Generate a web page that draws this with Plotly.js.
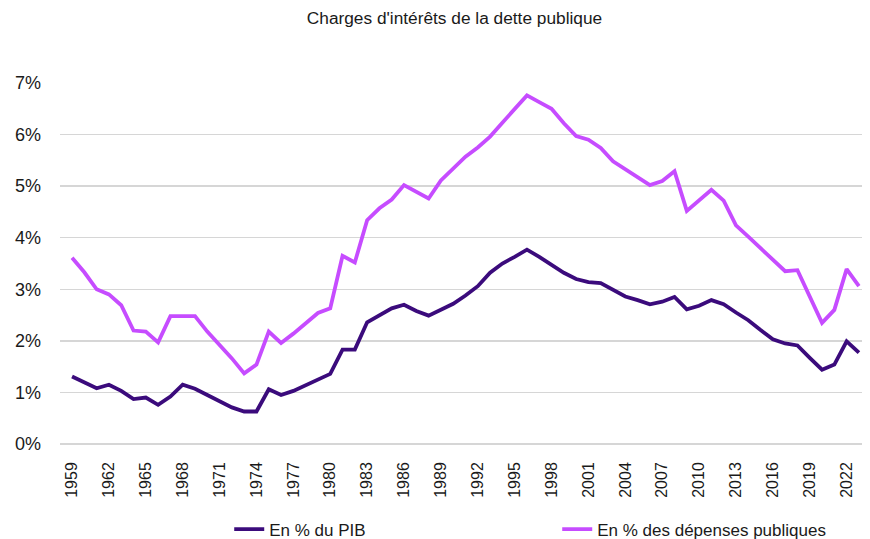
<!DOCTYPE html>
<html>
<head>
<meta charset="utf-8">
<script src="https://cdn.plot.ly/plotly-3.0.1.min.js"></script>
<style>
html,body{margin:0;padding:0;background:#fff;}
#chart{width:870px;height:539px;}
</style>
</head>
<body>
<div id="chart"></div>
<script>
const years = [1959,1960,1961,1962,1963,1964,1965,1966,1967,1968,1969,1970,1971,1972,1973,1974,1975,1976,1977,1978,1979,1980,1981,1982,1983,1984,1985,1986,1987,1988,1989,1990,1991,1992,1993,1994,1995,1996,1997,1998,1999,2000,2001,2002,2003,2004,2005,2006,2007,2008,2009,2010,2011,2012,2013,2014,2015,2016,2017,2018,2019,2020,2021,2022,2023];

const pctPIB = [1.31,1.20,1.08,1.15,1.03,0.87,0.90,0.76,0.92,1.15,1.07,0.95,0.83,0.71,0.63,0.63,1.06,0.95,1.03,1.14,1.25,1.36,1.83,1.83,2.36,2.49,2.63,2.70,2.58,2.49,2.60,2.72,2.88,3.06,3.32,3.50,3.63,3.77,3.63,3.47,3.32,3.20,3.14,3.12,2.98,2.86,2.79,2.71,2.76,2.85,2.61,2.68,2.79,2.71,2.55,2.40,2.21,2.03,1.95,1.91,1.67,1.44,1.54,1.99,1.77];

const pctDepenses = [3.61,3.33,3.00,2.90,2.69,2.20,2.18,1.97,2.48,2.48,2.48,2.18,1.92,1.66,1.37,1.54,2.18,1.96,2.14,2.34,2.54,2.63,3.65,3.52,4.34,4.57,4.74,5.02,4.89,4.76,5.11,5.34,5.57,5.75,5.96,6.23,6.49,6.76,6.63,6.50,6.22,5.97,5.90,5.74,5.48,5.32,5.17,5.02,5.10,5.29,4.52,4.72,4.93,4.72,4.24,4.02,3.79,3.56,3.35,3.37,2.88,2.35,2.60,3.39,3.06];

const seriesNames = ["En % du PIB", "En % des dépenses publiques"];
const titleText = "Charges d'intérêts de la dette publique";

const FONT = "'Liberation Sans', Arial, Helvetica, sans-serif";

const traces = [
  {x: years, y: pctPIB, name: seriesNames[0], type: 'scatter', mode: 'lines',
   line: {color: '#3b0b7c', width: 3.8}},
  {x: years, y: pctDepenses, name: seriesNames[1], type: 'scatter', mode: 'lines',
   line: {color: '#c64cff', width: 3.8}}
];

const layout = {
  width: 870, height: 539,
  margin: {l: 60, r: 8, t: 83, b: 95, pad: 0, autoexpand: false},
  paper_bgcolor: '#fff', plot_bgcolor: '#fff',
  font: {family: FONT, color: '#1a1a1a', size: 16},
  title: {text: titleText, x: 0.5224, xanchor: 'center', y: 0.966, yanchor: 'middle',
          yref: 'container', font: {family: FONT, size: 17.3, color: '#1a1a1a'}},
  xaxis: {
    range: [1958.02, 2023.25], tickmode: 'linear', tick0: 1959, dtick: 3,
    tickangle: -90, showgrid: false, zeroline: false, showline: false, automargin: false,
    ticks: '', ticklabelstandoff: 14,
    tickfont: {family: FONT, size: 16, color: '#1a1a1a'}
  },
  yaxis: {
    range: [0, 7], tickmode: 'linear', tick0: 0, dtick: 1, ticksuffix: '%',
    showgrid: true, gridcolor: '#d6d6d6', gridwidth: 1.5, automargin: false,
    zeroline: true, zerolinecolor: '#d6d6d6', zerolinewidth: 1.5,
    showline: false, ticks: '', ticklabelstandoff: 18,
    tickfont: {family: FONT, size: 18, color: '#1a1a1a'}
  },
  showlegend: true,
  legend: {orientation: 'h', x: 0.211, xanchor: 'left', y: -0.237, yanchor: 'middle',
           entrywidth: 283, entrywidthmode: 'pixels', traceorder: 'normal',
           font: {family: FONT, size: 17, color: '#1a1a1a'}, bgcolor: 'rgba(0,0,0,0)'}
};

Plotly.newPlot('chart', traces, layout, {displayModeBar: false, staticPlot: true});
</script>
</body>
</html>
